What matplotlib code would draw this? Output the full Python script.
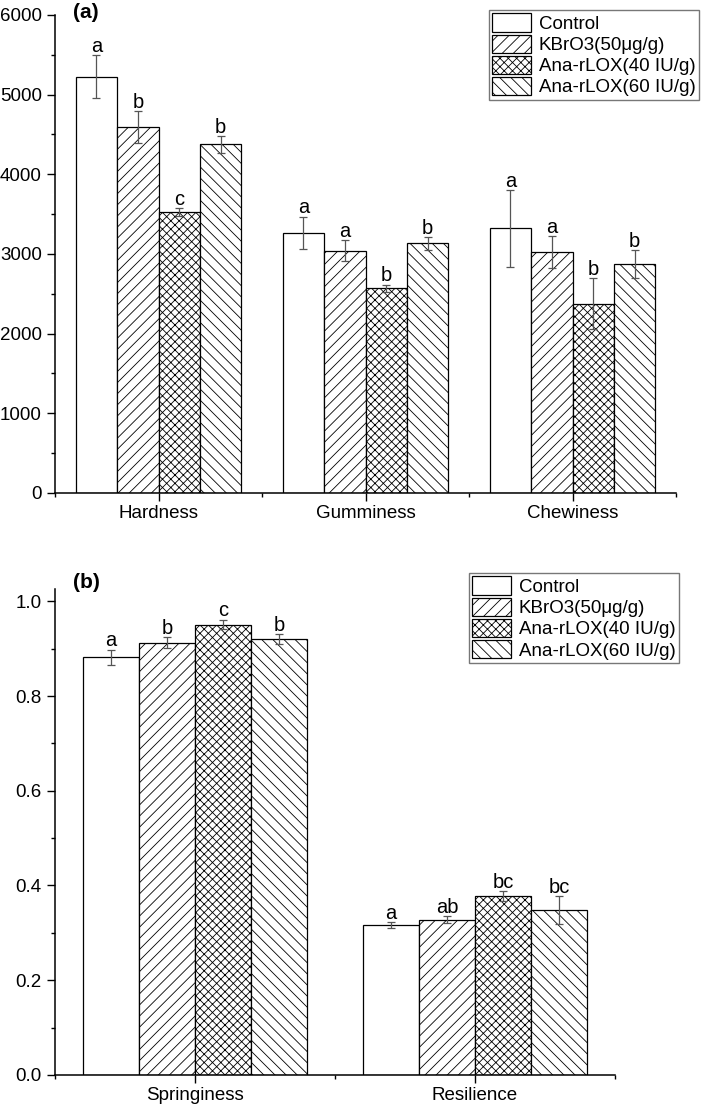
import matplotlib
matplotlib.use('Agg')
import matplotlib.pyplot as plt
import numpy as np
from matplotlib.ticker import MultipleLocator, FixedLocator
from matplotlib.patches import Patch

plt.rcParams['font.family'] = ['Liberation Sans', 'DejaVu Sans']
plt.rcParams['hatch.linewidth'] = 0.6
plt.rcParams['hatch.color'] = '#3a3a3a'

# ---------------- data ----------------
groups = ['Control', 'KBrO3(50μg/g)', 'Ana-rLOX(40 IU/g)', 'Ana-rLOX(60 IU/g)']

cats_a = ['Hardness', 'Gumminess', 'Chewiness']
a_control = [5225, 3267, 3320]
a_kbro3 = [4590, 3041, 3025]
a_lox40 = [3527, 2569, 2372]
a_lox60 = [4377, 3134, 2874]
a_control_err = [270, 200, 480]
a_kbro3_err = [200, 130, 200]
a_lox40_err = [50, 45, 320]
a_lox60_err = [105, 80, 170]
a_control_sig = ['a', 'a', 'a']
a_kbro3_sig = ['b', 'a', 'a']
a_lox40_sig = ['c', 'b', 'b']
a_lox60_sig = ['b', 'b', 'b']

cats_b = ['Springiness', 'Resilience']
b_control = [0.882, 0.317]
b_kbro3 = [0.913, 0.328]
b_lox40 = [0.951, 0.378]
b_lox60 = [0.920, 0.348]
b_control_err = [0.016, 0.006]
b_kbro3_err = [0.012, 0.008]
b_lox40_err = [0.010, 0.010]
b_lox60_err = [0.011, 0.030]
b_control_sig = ['a', 'a']
b_kbro3_sig = ['b', 'ab']
b_lox40_sig = ['c', 'bc']
b_lox60_sig = ['b', 'bc']

hatches = ['', '///', 'xxxx', '\\\\\\']

# ---------------- figure ----------------
fig = plt.figure(figsize=(7.09, 11.09), dpi=100)
ax_a = fig.add_axes([0.0776, 0.5555, 0.8759, 0.4310])
ax_b = fig.add_axes([0.0776, 0.0307, 0.7898, 0.4382])

FS = 13.5
width = 0.2
offsets = [-0.3, -0.1, 0.1, 0.3]


def draw(ax, cats, vals, errs, sigs, ylim, major, minor):
    x = np.arange(len(cats))
    for i in range(4):
        ax.bar(x + offsets[i], vals[i], width, color='white', edgecolor='black',
               linewidth=0.9, hatch=hatches[i], label=groups[i], zorder=2)
        ax.errorbar(x + offsets[i], vals[i], yerr=errs[i], fmt='none',
                    ecolor='#555555', elinewidth=0.9, capsize=3, capthick=0.9, zorder=3)
        for xi, v, e, s in zip(x + offsets[i], vals[i], errs[i], sigs[i]):
            ax.annotate(s, (xi, v + e), xytext=(0, -0.5), textcoords='offset points',
                        ha='center', va='bottom', fontsize=14.5, zorder=4)
    ax.set_xlim(-0.5, len(cats) - 0.5)
    ax.set_ylim(*ylim)
    ax.set_xticks(x)
    ax.set_xticklabels(cats, fontsize=FS)
    ax.xaxis.set_minor_locator(FixedLocator(np.arange(-0.5, len(cats), 1.0)))
    ax.yaxis.set_major_locator(MultipleLocator(major))
    ax.yaxis.set_minor_locator(MultipleLocator(minor))
    ax.tick_params(axis='both', which='major', direction='out', length=6, width=1,
                   labelsize=FS)
    ax.tick_params(axis='both', which='minor', direction='out', length=3, width=1)
    ax.tick_params(axis='x', which='major', pad=3)
    for sp in ['top', 'right']:
        ax.spines[sp].set_visible(False)
    for sp in ['left', 'bottom']:
        ax.spines[sp].set_linewidth(1.1)


draw(ax_a, cats_a,
     [a_control, a_kbro3, a_lox40, a_lox60],
     [a_control_err, a_kbro3_err, a_lox40_err, a_lox60_err],
     [a_control_sig, a_kbro3_sig, a_lox40_sig, a_lox60_sig],
     (0, 6000), 1000, 500)
ax_a.yaxis.set_major_formatter(matplotlib.ticker.FormatStrFormatter('%d'))

draw(ax_b, cats_b,
     [b_control, b_kbro3, b_lox40, b_lox60],
     [b_control_err, b_kbro3_err, b_lox40_err, b_lox60_err],
     [b_control_sig, b_kbro3_sig, b_lox40_sig, b_lox60_sig],
     (0, 1.026), 0.2, 0.1)
ax_b.yaxis.set_major_formatter(matplotlib.ticker.FormatStrFormatter('%.1f'))


def legend(ax, anchor):
    handles = [Patch(facecolor='white', edgecolor='black', hatch=h, linewidth=0.9)
               for h in hatches]
    leg = ax.legend(handles, groups, loc='upper right', bbox_to_anchor=anchor,
                    bbox_transform=fig.transFigure, fontsize=FS, frameon=True,
                    fancybox=False, edgecolor='#555555', handlelength=2.1,
                    handleheight=1.15, labelspacing=0.08, handletextpad=0.4,
                    borderpad=0.18, borderaxespad=0)
    leg.get_frame().set_linewidth(1.0)


legend(ax_a, (699 / 709, 1 - 10 / 1109))
legend(ax_b, (679 / 709, 1 - 573 / 1109))

fig.text(73 / 709, 1 - 13 / 1109, '(a)', fontsize=15, fontweight='bold',
         ha='left', va='center')
fig.text(73 / 709, 1 - 582 / 1109, '(b)', fontsize=15, fontweight='bold',
         ha='left', va='center')

fig.savefig('out.png', dpi=100)
